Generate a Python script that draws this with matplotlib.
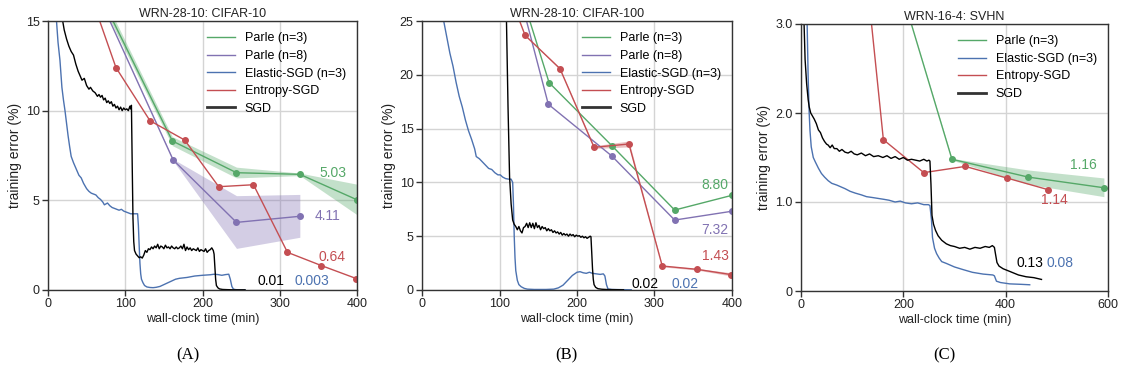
import matplotlib
matplotlib.use("Agg")
import matplotlib.pyplot as plt
from matplotlib.lines import Line2D

plt.rcParams['font.family'] = ['Liberation Sans', 'DejaVu Sans']

C_GREEN = '#55A868'
C_PURPLE = '#8172B2'
C_BLUE = '#4C72B0'
C_RED = '#C44E52'
C_BLACK = '#000000'

# ---------------- Panel A: WRN-28-10 CIFAR-10 ----------------
a_parle3_x = [60, 161, 244, 326, 400]
a_parle3_y = [17.1, 8.31, 6.54, 6.45, 5.03]
a_parle3_lo = [16.8, 8.05, 6.25, 6.38, 4.2]
a_parle3_hi = [17.4, 8.55, 6.85, 6.52, 5.9]

a_parle8_x = [60, 162, 244, 326]
a_parle8_y = [16.9, 7.25, 3.77, 4.11]
a_parle8_lo = [16.9, 7.2, 2.32, 2.94]
a_parle8_hi = [16.9, 7.3, 5.26, 5.33]

a_entropy_x = [45, 88, 132, 177, 221, 266, 310, 354, 399]
a_entropy_y = [17.7, 12.4, 9.44, 8.36, 5.76, 5.87, 2.10, 1.36, 0.64]

a_sgd_x = [19, 21, 24, 27, 30, 33, 36, 39, 42, 44, 47, 50, 53, 55, 58, 61, 64, 66,
           68, 70, 72, 74, 76, 78, 80, 82, 84, 86, 88, 90, 92, 94, 96, 98, 100, 102,
           104, 106, 107, 108, 109, 110, 111, 112, 114, 116, 118, 120, 122, 124, 126,
           128, 130, 132, 134, 136, 138, 140, 142, 144, 146, 148, 150, 152, 154, 156,
           158, 160, 162, 164, 166, 168, 170, 172, 174, 176, 178, 180, 182, 184, 186,
           188, 190, 192, 194, 196, 198, 200, 202, 204, 206, 208, 210, 212, 214, 215,
           216, 217, 218, 220, 222, 226, 232, 240, 255]
a_sgd_y = [15.0, 14.5, 14.0, 13.6, 13.3, 13.1, 12.6, 12.2, 11.9, 11.7, 11.8, 11.4, 11.2,
           11.3, 11.1, 11.0, 10.8, 10.9, 10.75, 10.85, 10.6, 10.7, 10.45, 10.55, 10.4,
           10.5, 10.25, 10.35, 10.15, 10.25, 10.05, 10.2, 10.0, 10.15, 10.05, 10.1, 10.0,
           10.25, 10.1, 10.3, 7.0, 4.0, 2.7, 2.2, 2.0, 1.9, 1.8, 1.85, 1.78, 1.95, 2.2,
           2.1, 2.3, 2.25, 2.4, 2.3, 2.45, 2.35, 2.55, 2.3, 2.45, 2.4, 2.3, 2.5, 2.35,
           2.4, 2.3, 2.45, 2.35, 2.3, 2.4, 2.3, 2.35, 2.45, 2.3, 2.55, 2.2, 2.4, 2.25,
           2.35, 2.2, 2.3, 2.25, 2.2, 2.35, 2.15, 2.25, 2.2, 2.15, 2.3, 2.1, 2.2, 2.25,
           2.35, 2.2, 2.0, 1.3, 0.6, 0.25, 0.12, 0.06, 0.03, 0.02, 0.01, 0.01]

a_elastic_x = [11, 13, 15.5, 18, 20, 22, 24, 26, 28, 30, 33, 36, 40, 43, 46, 50, 53, 56,
               59, 62, 65, 68, 71, 73, 75, 77, 80, 83, 86, 89, 92, 95, 98, 101, 104, 107,
               110, 113, 116, 117, 118, 119, 120, 121, 123, 125, 128, 132, 136, 140, 145,
               150, 155, 160, 165, 170, 180, 190, 200, 210, 215, 220, 225, 230, 234, 236,
               238, 240, 243, 255]
a_elastic_y = [15.0, 13.8, 12.8, 11.3, 10.6, 10.0, 9.3, 8.6, 8.0, 7.45, 7.1, 6.8, 6.4,
               6.25, 5.95, 5.65, 5.5, 5.4, 5.35, 5.3, 5.15, 5.05, 4.9, 4.75, 4.8, 4.85,
               4.7, 4.6, 4.55, 4.5, 4.45, 4.5, 4.4, 4.35, 4.3, 4.25, 4.25, 4.25, 4.25, 3.6,
               2.5, 1.5, 0.9, 0.6, 0.4, 0.25, 0.17, 0.14, 0.13, 0.15, 0.2, 0.3, 0.4, 0.5,
               0.6, 0.65, 0.7, 0.78, 0.82, 0.85, 0.88, 0.86, 0.82, 0.86, 0.88, 0.6, 0.2,
               0.05, 0.02, 0.003]

# ---------------- Panel B: WRN-28-10 CIFAR-100 ----------------
b_parle3_x = [120, 164, 245, 326, 400]
b_parle3_y = [29.4, 19.27, 13.41, 7.43, 8.80]

b_parle8_x = [120, 163, 245, 326, 400]
b_parle8_y = [29.1, 17.26, 12.45, 6.5, 7.32]

b_entropy_x = [100, 133, 178, 222, 267, 310, 355, 399]
b_entropy_y = [29.9, 23.67, 20.57, 13.26, 13.57, 2.23, 1.92, 1.43]
b_entropy_lo = [29.9, 23.6, 20.5, 13.15, 13.3, 2.15, 1.85, 1.3]
b_entropy_hi = [29.9, 23.7, 20.65, 13.4, 13.85, 2.3, 2.0, 1.6]

b_sgd_x = [100, 109, 111, 113, 115, 117, 119, 121, 123, 125, 127, 129, 131, 133, 135,
           137, 139, 141, 143, 145, 147, 149, 151, 153, 155, 157, 159, 161, 163, 165,
           167, 169, 171, 173, 175, 177, 179, 181, 183, 185, 187, 189, 191, 193, 195,
           197, 199, 201, 203, 205, 207, 209, 211, 213, 215, 217, 218, 219, 220, 221,
           222, 224, 227, 232, 240, 260]
b_sgd_y = [40.0, 25.0, 17.0, 10.5, 8.0, 6.5, 6.1, 5.9, 5.6, 5.9, 5.5, 5.3, 5.8, 5.9,
           6.2, 5.8, 6.25, 5.8, 6.2, 5.7, 6.25, 5.8, 6.0, 5.6, 5.9, 5.7, 5.8, 5.5, 5.7,
           5.5, 5.6, 5.35, 5.5, 5.3, 5.4, 5.2, 5.35, 5.1, 5.25, 5.1, 5.2, 5.0, 5.2, 5.05,
           5.15, 4.95, 5.1, 5.0, 5.05, 4.9, 5.0, 4.85, 4.95, 4.8, 4.9, 5.0, 4.95, 3.5,
           2.0, 1.0, 0.5, 0.25, 0.12, 0.07, 0.04, 0.02]

b_elastic_x = [28, 32, 36, 40, 44, 48, 52, 56, 60, 64, 68, 70, 74, 78, 82, 86, 90, 94,
               98, 101, 104, 108, 112, 115, 117, 118, 119, 120, 121, 123, 125, 128, 132,
               136, 145, 160, 170, 176, 182, 188, 194, 200, 204, 208, 212, 216, 220, 225,
               230, 234, 236, 238, 240, 245, 270]
b_elastic_y = [25.0, 23.5, 22.0, 20.8, 19.3, 18.0, 17.0, 15.8, 14.8, 14.0, 13.1, 12.4,
               12.2, 11.9, 11.6, 11.3, 11.2, 10.9, 10.7, 10.7, 10.5, 10.35, 10.3, 10.3,
               10.0, 8.0, 5.0, 3.0, 1.8, 0.9, 0.5, 0.3, 0.15, 0.08, 0.05, 0.05, 0.08, 0.2,
               0.45, 0.9, 1.35, 1.65, 1.7, 1.6, 1.55, 1.65, 1.55, 1.5, 1.45, 1.5, 1.3, 0.5,
               0.1, 0.05, 0.02]

# ---------------- Panel C: WRN-16-4 SVHN ----------------
c_parle3_x = [200, 295, 444, 592]
c_parle3_y = [3.3, 1.48, 1.28, 1.16]
c_parle3_lo = [3.3, 1.47, 1.20, 1.06]
c_parle3_hi = [3.3, 1.49, 1.36, 1.27]

c_entropy_x = [120, 161, 240, 321, 402, 482]
c_entropy_y = [4.0, 1.70, 1.33, 1.40, 1.27, 1.14]

c_sgd_x = [4, 6, 8, 11, 14, 16, 19, 22, 26, 30, 34, 38, 42, 46, 50, 53, 57, 61, 65, 70,
           75, 80, 86, 92, 98, 104, 110, 118, 126, 134, 142, 151, 160, 168, 176, 184,
           192, 200, 208, 216, 224, 232, 240, 246, 250, 252, 254, 256, 259, 263, 268,
           275, 284, 292, 300, 310, 320, 330, 340, 350, 360, 368, 374, 378, 380, 383,
           387, 395, 408, 425, 440, 455, 470]
c_sgd_y = [3.6, 3.0, 2.6, 2.33, 2.15, 2.07, 2.0, 1.97, 1.93, 1.88, 1.81, 1.78, 1.72,
           1.68, 1.65, 1.64, 1.61, 1.64, 1.6, 1.6, 1.57, 1.59, 1.56, 1.55, 1.57, 1.54,
           1.53, 1.55, 1.52, 1.54, 1.51, 1.52, 1.5, 1.52, 1.49, 1.51, 1.48, 1.5, 1.47,
           1.48, 1.47, 1.46, 1.48, 1.46, 1.47, 1.46, 1.2, 0.85, 0.75, 0.68, 0.62, 0.57,
           0.53, 0.51, 0.5, 0.48, 0.49, 0.47, 0.49, 0.48, 0.5, 0.49, 0.51, 0.49, 0.42,
           0.32, 0.28, 0.25, 0.22, 0.18, 0.16, 0.15, 0.13]

c_elastic_x = [10, 12, 14, 16, 17.6, 20, 24, 28, 34, 40, 46, 53, 60, 70, 78, 86, 96, 106,
               118, 128, 140, 151, 162, 172, 184, 194, 204, 216, 228, 240, 249, 252, 255,
               257, 261, 265, 270, 275, 284, 300, 317, 335, 356, 375, 378, 382, 390, 408,
               430, 447]
c_elastic_y = [3.6, 3.0, 2.4, 2.0, 1.8, 1.62, 1.5, 1.45, 1.38, 1.32, 1.28, 1.24, 1.21,
               1.19, 1.17, 1.15, 1.12, 1.10, 1.08, 1.06, 1.05, 1.04, 1.03, 1.02, 1.0,
               1.01, 0.99, 0.98, 0.99, 0.97, 0.97, 0.96, 0.8, 0.6, 0.48, 0.42, 0.37, 0.33,
               0.31, 0.27, 0.24, 0.21, 0.19, 0.18, 0.17, 0.11, 0.095, 0.08, 0.075, 0.07]

titles = ['WRN-28-10: CIFAR-10', 'WRN-28-10: CIFAR-100', 'WRN-16-4: SVHN']
captions = ['(A)', '(B)', '(C)']

fig = plt.figure(figsize=(11.22, 3.75), dpi=100)
W, H = 1122.0, 375.0
def axes_px(l, t, r, b):
    return fig.add_axes([l / W, 1 - b / H, (r - l) / W, (b - t) / H])

axA = axes_px(48, 21, 357, 290)
axB = axes_px(422, 21, 732, 290)
axC = axes_px(801, 24, 1108, 291)

LW = 1.0
MS = 4

def style(ax, title, xlim, ylim, yticks, xticks, ylabels):
    ax.set_xlim(*xlim)
    ax.set_ylim(*ylim)
    ax.set_xticks(xticks)
    ax.set_yticks(yticks)
    ax.set_yticklabels(ylabels)
    ax.grid(True, color='#d4d4d4', linewidth=1.0)
    ax.set_axisbelow(True)
    for s in ax.spines.values():
        s.set_color('#333333')
        s.set_linewidth(1.0)
    ax.tick_params(labelsize=9, length=4, width=1, color='#333333', labelcolor='#222222', pad=2)
    ax.set_title(title, fontsize=9, pad=3, color='#222222')
    ax.set_xlabel('wall-clock time (min)', fontsize=9, labelpad=2, color='#222222')
    ax.set_ylabel('training error (%)', fontsize=10, labelpad=3, color='#222222')

def legend(ax, entries):
    handles = []
    for lab, col in entries:
        if lab == 'SGD':
            handles.append(Line2D([], [], color='#333333', lw=2.0, label=lab))
        else:
            handles.append(Line2D([], [], color=col, lw=1.0, label=lab))
    ax.legend(handles=handles, loc='upper right', frameon=False, fontsize=9,
              handlelength=2.2, labelspacing=0.45)

# Panel A
ax = axA
ax.fill_between(a_parle3_x, a_parle3_lo, a_parle3_hi, color=C_GREEN, alpha=0.35, lw=0)
ax.fill_between(a_parle8_x, a_parle8_lo, a_parle8_hi, color=C_PURPLE, alpha=0.35, lw=0)
ax.plot(a_parle3_x, a_parle3_y, '-o', color=C_GREEN, lw=LW, ms=MS)
ax.plot(a_parle8_x, a_parle8_y, '-o', color=C_PURPLE, lw=LW, ms=MS)
ax.plot(a_elastic_x, a_elastic_y, '-', color=C_BLUE, lw=LW)
ax.plot(a_entropy_x, a_entropy_y, '-o', color=C_RED, lw=LW, ms=MS)
ax.plot(a_sgd_x, a_sgd_y, '-', color=C_BLACK, lw=LW)
style(ax, titles[0], (0, 400), (0, 15), [0, 5, 10, 15], [0, 100, 200, 300, 400],
      ['0', '5', '10', '15'])
ax.text(369, 6.5, '5.03', color=C_GREEN, fontsize=10, ha='center', va='center')
ax.text(362, 4.15, '4.11', color=C_PURPLE, fontsize=10, ha='center', va='center')
ax.text(368, 1.85, '0.64', color=C_RED, fontsize=10, ha='center', va='center')
ax.text(288, 0.5, '0.01', color=C_BLACK, fontsize=10, ha='center', va='center')
ax.text(342, 0.5, '0.003', color=C_BLUE, fontsize=10, ha='center', va='center')
legend(ax, [('Parle (n=3)', C_GREEN), ('Parle (n=8)', C_PURPLE),
            ('Elastic-SGD (n=3)', C_BLUE), ('Entropy-SGD', C_RED), ('SGD', C_BLACK)])

# Panel B
ax = axB
ax.fill_between(b_entropy_x, b_entropy_lo, b_entropy_hi, color=C_RED, alpha=0.35, lw=0)
ax.plot(b_parle3_x, b_parle3_y, '-o', color=C_GREEN, lw=LW, ms=MS)
ax.plot(b_parle8_x, b_parle8_y, '-o', color=C_PURPLE, lw=LW, ms=MS)
ax.plot(b_elastic_x, b_elastic_y, '-', color=C_BLUE, lw=LW)
ax.plot(b_entropy_x, b_entropy_y, '-o', color=C_RED, lw=LW, ms=MS)
ax.plot(b_sgd_x, b_sgd_y, '-', color=C_BLACK, lw=LW)
style(ax, titles[1], (0, 400), (0, 25), [0, 5, 10, 15, 20, 25], [0, 100, 200, 300, 400],
      ['0', '5', '10', '15', '20', '25'])
ax.text(378, 9.8, '8.80', color=C_GREEN, fontsize=10, ha='center', va='center')
ax.text(378, 5.6, '7.32', color=C_PURPLE, fontsize=10, ha='center', va='center')
ax.text(378, 3.15, '1.43', color=C_RED, fontsize=10, ha='center', va='center')
ax.text(288, 0.6, '0.02', color=C_BLACK, fontsize=10, ha='center', va='center')
ax.text(339, 0.6, '0.02', color=C_BLUE, fontsize=10, ha='center', va='center')
legend(ax, [('Parle (n=3)', C_GREEN), ('Parle (n=8)', C_PURPLE),
            ('Elastic-SGD (n=3)', C_BLUE), ('Entropy-SGD', C_RED), ('SGD', C_BLACK)])

# Panel C
ax = axC
ax.fill_between(c_parle3_x, c_parle3_lo, c_parle3_hi, color=C_GREEN, alpha=0.35, lw=0)
ax.plot(c_parle3_x, c_parle3_y, '-o', color=C_GREEN, lw=LW, ms=MS)
ax.plot(c_elastic_x, c_elastic_y, '-', color=C_BLUE, lw=LW)
ax.plot(c_entropy_x, c_entropy_y, '-o', color=C_RED, lw=LW, ms=MS)
ax.plot(c_sgd_x, c_sgd_y, '-', color=C_BLACK, lw=LW)
style(ax, titles[2], (0, 600), (0, 3.0), [0, 1.0, 2.0, 3.0], [0, 200, 400, 600],
      ['0', '1.0', '2.0', '3.0'])
ax.text(551, 1.415, '1.16', color=C_GREEN, fontsize=10, ha='center', va='center')
ax.text(496, 1.02, '1.14', color=C_RED, fontsize=10, ha='center', va='center')
ax.text(447, 0.31, '0.13', color=C_BLACK, fontsize=10, ha='center', va='center')
ax.text(506, 0.31, '0.08', color=C_BLUE, fontsize=10, ha='center', va='center')
legend(ax, [('Parle (n=3)', C_GREEN), ('Elastic-SGD (n=3)', C_BLUE),
            ('Entropy-SGD', C_RED), ('SGD', C_BLACK)])

for cx, cap in zip([188, 566, 944], captions):
    fig.text(cx / W, 1 - 355 / H, cap, ha='center', va='center', fontsize=12,
             family=['Liberation Serif', 'DejaVu Serif'])

fig.savefig('out.png', dpi=100)
